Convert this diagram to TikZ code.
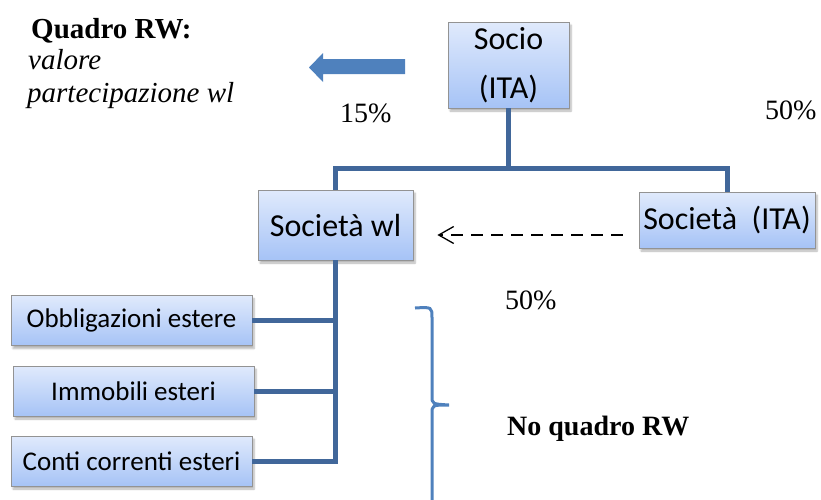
\documentclass[tikz,border=0pt]{standalone}
\usepackage{fontspec}
\setmainfont{Liberation Serif}
\newfontfamily\boxfont{Carlito}
\usepackage{tikz}
\usetikzlibrary{arrows.meta, shadows.blur}

\definecolor{linkblue}{HTML}{41679A}
\definecolor{arrowblue}{HTML}{4F81BD}
\definecolor{boxtop}{HTML}{E0EAFC}
\definecolor{boxbot}{HTML}{A6C3F6}

\tikzset{
  box/.style={draw=gray!85, line width=0.8pt, top color=boxtop, bottom color=boxbot,
    inner sep=0pt, align=center,
    blur shadow={shadow xshift=2pt, shadow yshift=-3pt, shadow opacity=30, shadow blur steps=6}},
  bigbox/.style={box, font=\boxfont\fontsize{32}{49}\selectfont},
  smallbox/.style={box, font=\boxfont\fontsize{27}{30}\selectfont, minimum width=241pt, minimum height=50pt},
  conn/.style={linkblue, line width=5pt},
  label/.style={inner sep=0pt, anchor=base west, font=\fontsize{28}{32}\selectfont},
}

\begin{document}
\begin{tikzpicture}[x=1pt, y=-1pt]
\useasboundingbox (0,0) rectangle (821,499);

\node[bigbox, minimum width=121pt, minimum height=86pt] (socio) at (508.5,65) {\raisebox{-3pt}{Socio}\\\raisebox{-3pt}{(ITA)}};
\node[bigbox, minimum width=176pt, minimum height=56pt] (socita) at (727,220) {Società~ (ITA)};
\node[bigbox, minimum width=155pt, minimum height=70pt] (socwl) at (335.5,225) {Società wl};
\node[smallbox] (obbl) at (131.5,320.5) {Obbligazioni estere};
\node[smallbox] (immob) at (133.5,391) {Immobili esteri};
\node[smallbox] (conti) at (131.5,461) {Conti correnti esteri};

\coordinate (split) at (508.5,168);
\draw[conn] (socio.south) -- (split);
\draw[conn] (socwl.north) |- (split) -| (socita.north);
\draw[conn] (socwl.south) |- (conti.east);
\draw[conn] (obbl.east) -- (obbl.east -| socwl.south);
\draw[conn] (immob.east) -- (immob.east -| socwl.south);

\draw[line width=1.3pt, dash pattern=on 12pt off 8pt, -{Straight Barb[length=15pt, width=17pt, line width=1.3pt]}]
  ([xshift=-16pt, yshift=-15pt]socita.west) -- ([xshift=24pt, yshift=-10pt]socwl.east);

% block arrow towards the RW text
\fill[arrowblue] (405,59) -- (323,59) -- (323,53) -- (309,67.5) -- (323,82) -- (323,74) -- (405,74) -- cycle;

% brace
\draw[arrowblue, line width=3pt] (415,308) .. controls (432,307) .. (432,318) -- (432,396)
  .. controls (432,404) .. (449,405) .. controls (432,405) .. (432,414) -- (432,505);

\node[label, font=\bfseries\fontsize{29}{32}\selectfont] (rwtitle) at (31,38) {Quadro RW:};
\node[label, font=\itshape\fontsize{29}{32}\selectfont] (rwval) at (28,69) {valore};
\node[label, font=\itshape\fontsize{29}{32}\selectfont] (rwpart) at (27,102) {partecipazione wl};
\node[label] (pct15) at (340,122) {15\%};
\node[label] (pct50a) at (765,119) {50\%};
\node[label] (pct50b) at (505,309) {50\%};
\node[label, font=\bfseries\fontsize{28}{32}\selectfont] (norw) at (507,435) {No quadro RW};
\end{tikzpicture}
\end{document}
